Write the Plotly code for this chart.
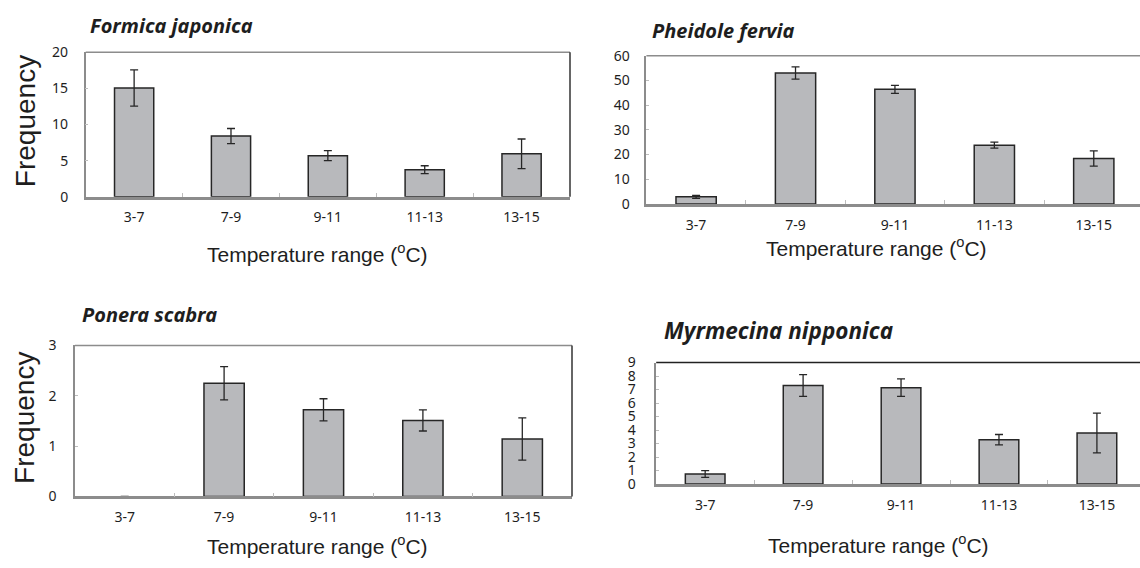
import plotly.graph_objects as go

categories = ["3-7", "7-9", "9-11", "11-13", "13-15"]

formica_mean = [15.05, 8.4, 5.7, 3.75, 5.95]
formica_err = [2.5, 1.05, 0.7, 0.55, 2.05]

pheidole_mean = [2.9, 53.0, 46.4, 23.8, 18.4]
pheidole_err = [0.6, 2.5, 1.6, 1.2, 3.1]

ponera_mean = [0, 2.25, 1.72, 1.51, 1.14]
ponera_err = [0, 0.33, 0.22, 0.21, 0.42]

myrmecina_mean = [0.75, 7.3, 7.14, 3.29, 3.78]
myrmecina_err = [0.25, 0.8, 0.65, 0.38, 1.47]

titles = ["Formica japonica", "Pheidole fervia", "Ponera scabra", "Myrmecina nipponica"]
y_ticks = [[0, 5, 10, 15, 20], [0, 10, 20, 30, 40, 50, 60], [0, 1, 2, 3], list(range(0, 10))]
y_max = [20, 60, 3, 9]
x_label = "Temperature range (<sup>o</sup>C)"
y_label = "Frequency"

W, H = 1140, 568

def px(x):
    return x / W

def py(y):
    return 1 - y / H

panels = [
    dict(mean=formica_mean, err=formica_err, xd=[85.7, 570], yd=[43.7, 193.3], xr=4.5,
         title_xy=(88, 16), tsize=20, xt_xy=(317, 251), ystand=13, topcol="#8c8c8c", right=True),
    dict(mean=pheidole_mean, err=pheidole_err, xd=[646.4, 1140], yd=[47.3, 200.7], xr=4.465,
         title_xy=(650, 21), tsize=20, xt_xy=(877, 245), ystand=12, topcol="#8c8c8c", right=False),
    dict(mean=ponera_mean, err=ponera_err, xd=[75, 572], yd=[347, 503.3], xr=4.5,
         title_xy=(80, 315), tsize=20, xt_xy=(317, 553), ystand=14, topcol="#8c8c8c", right=True),
    dict(mean=myrmecina_mean, err=myrmecina_err, xd=[656.2, 1140], yd=[364.7, 490.5], xr=4.44,
         title_xy=(662, 332), tsize=22.5, xt_xy=(878, 552), ystand=16, topcol="#222222", right=False),
]

fig = go.Figure()
annotations = []
shapes = []
txt = "#1e1e1e"
axcol = "#8c8c8c"

for i, p in enumerate(panels):
    n = "" if i == 0 else str(i + 1)
    fig.add_trace(go.Bar(
        x=categories, y=p["mean"], width=0.405,
        marker=dict(color="#b8b9bc",
                    line=dict(color="#262626", width=[0 if v == 0 else 1.5 for v in p["mean"]])),
        error_y=dict(type="data", array=p["err"], visible=True, color="#262626", thickness=1.3, width=4),
        xaxis="x" + n, yaxis="y" + n, showlegend=False,
    ))
    fig.layout["xaxis" + n] = dict(
        domain=[px(p["xd"][0]), px(p["xd"][1])], anchor="y" + n,
        type="category", range=[-0.5, p["xr"]],
        showline=True, linecolor=axcol, linewidth=2.5,
        ticks="inside", tickson="boundaries", ticklen=4, tickcolor="#bdbdbd", tickwidth=1,
        tickfont=dict(family="Noto Sans", size=14, color=txt), ticklabelstandoff=6,
        showgrid=False, zeroline=False, fixedrange=True,
    )
    fig.layout["yaxis" + n] = dict(
        domain=[py(p["yd"][1]), py(p["yd"][0])], anchor="x" + n,
        range=[0, y_max[i]], tickvals=y_ticks[i],
        showline=True, linecolor=axcol, linewidth=1.5,
        ticks="inside", ticklen=3, tickcolor="#bdbdbd", tickwidth=1,
        tickfont=dict(family="Noto Sans", size=14, color=txt), ticklabelstandoff=p["ystand"],
        showgrid=False, zeroline=False, fixedrange=True,
    )
    shapes.append(dict(type="line", xref="x" + n + " domain", yref="y" + n + " domain",
                       x0=0, x1=1, y0=1, y1=1, line=dict(color=p["topcol"], width=1.5)))
    if p["right"]:
        shapes.append(dict(type="line", xref="x" + n + " domain", yref="y" + n + " domain",
                           x0=1, x1=1, y0=0, y1=1, line=dict(color="#333333", width=1.5)))
    annotations.append(dict(text="<b><i>" + titles[i] + "</i></b>", x=px(p["title_xy"][0]), y=py(p["title_xy"][1]),
                            xref="paper", yref="paper", xanchor="left", yanchor="middle", showarrow=False,
                            font=dict(family="Noto Sans", size=p["tsize"], color=txt)))
    annotations.append(dict(text=x_label, x=px(p["xt_xy"][0]), y=py(p["xt_xy"][1]),
                            xref="paper", yref="paper", xanchor="center", yanchor="middle", showarrow=False,
                            font=dict(family="Liberation Sans", size=21, color=txt)))

for yc in (115, 422):
    annotations.append(dict(text=y_label, x=px(25), y=py(yc), xref="paper", yref="paper",
                            xanchor="center", yanchor="middle", textangle=-90, showarrow=False,
                            font=dict(family="Liberation Sans", size=28, color=txt)))

fig.update_layout(
    width=W, height=H, margin=dict(l=0, r=0, t=0, b=0),
    paper_bgcolor="white", plot_bgcolor="white",
    annotations=annotations, shapes=shapes, bargap=0.5,
)

fig.write_html("out.html", config={"displayModeBar": False})
